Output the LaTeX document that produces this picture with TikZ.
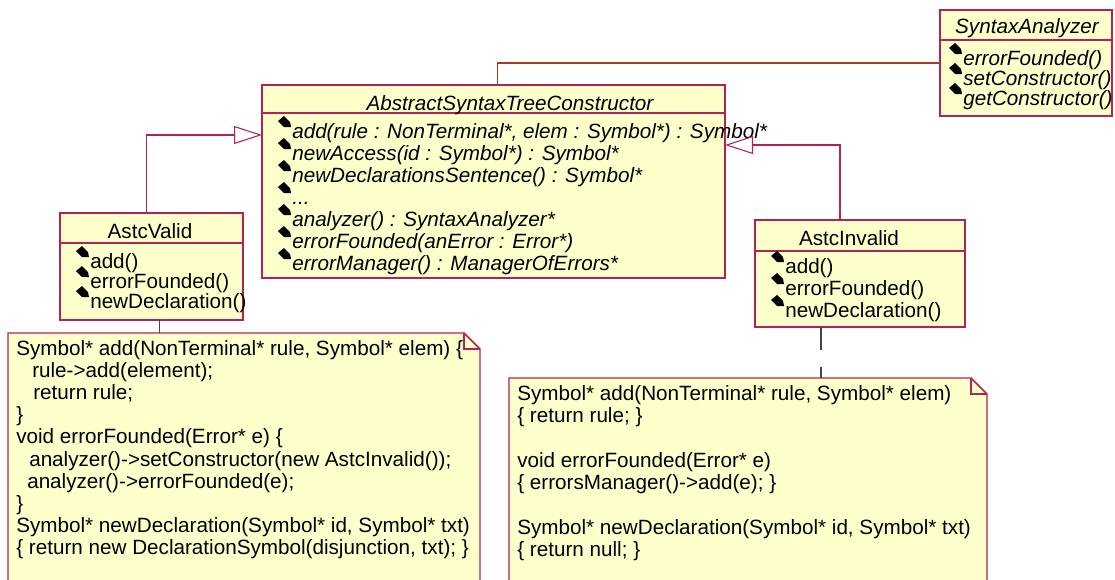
\documentclass[tikz,border=0pt]{standalone}
\usepackage{fontspec}
\setmainfont{Liberation Sans}
\usetikzlibrary{arrows.meta}

\definecolor{roseline}{RGB}{178,34,86}
\definecolor{rosefill}{RGB}{255,255,204}
\definecolor{assocline}{RGB}{165,60,30}
\definecolor{noteline}{RGB}{70,70,70}

\newdimen\upx
\upx=0.75pt

\tikzset{
  classbox/.style={draw=roseline, fill=rosefill, line width=1.1pt, inner sep=0pt, outer sep=0pt, anchor=north west},
  notebox/.style={inner sep=0pt, outer sep=0pt, anchor=north west},
  umltxt/.style={inner sep=0pt, font=\fontsize{15.5}{16.7}\selectfont},
  nametxt/.style={umltxt, anchor=base},
  absnametxt/.style={nametxt, font=\fontsize{15.5}{16.7}\selectfont\itshape},
  optxt/.style={umltxt, anchor=base west},
  absoptxt/.style={optxt, font=\fontsize{15.5}{16.7}\selectfont\itshape},
  inherit/.style={draw=roseline, line width=0.8pt, -{Triangle[open, length=21pt, width=13.5pt]}},
}

\newcommand{\umlops}[6]{%
  \foreach \op [count=\k] in {#6} {
    \pgfmathsetmacro{\yb}{#4+(\k-1)*#5}
    \fill (#3-14,\yb-17) -- (#3-8,\yb-22) -- (#3-2,\yb-16) -- (#3-1,\yb-11) -- (#3-8,\yb-11) -- cycle;
    \node[#2] (#1-\k) at (#3,\yb) {\op};
  }%
}

\begin{document}
\begin{tikzpicture}[x=\upx, y=-\upx]
\useasboundingbox (0,0) rectangle (1115,579);
\clip (0,0) rectangle (1115,579);

\node[classbox, minimum width=463\upx, minimum height=193\upx] (ast) at (262,85) {};
\node[classbox, minimum width=172\upx, minimum height=106\upx] (syn) at (940,10) {};
\node[classbox, minimum width=183\upx, minimum height=107\upx] (valid) at (60,213) {};
\node[classbox, minimum width=210\upx, minimum height=107\upx] (invalid) at (755,220) {};

\draw[roseline, line width=1.1pt] ([yshift=-28\upx]ast.north west) -- ([yshift=-28\upx]ast.north east);
\draw[roseline, line width=1.1pt] ([yshift=-30\upx]syn.north west) -- ([yshift=-30\upx]syn.north east);
\draw[roseline, line width=1.1pt] ([yshift=-30\upx]valid.north west) -- ([yshift=-30\upx]valid.north east);
\draw[roseline, line width=1.1pt] ([yshift=-31\upx]invalid.north west) -- ([yshift=-31\upx]invalid.north east);

\node[absnametxt] (ast-name) at (510,110) {AbstractSyntaxTreeConstructor};
\node[absnametxt] (syn-name) at (1027,33) {SyntaxAnalyzer};
\node[nametxt] (valid-name) at (150,238) {AstcValid};
\node[nametxt] (invalid-name) at (849,245) {AstcInvalid};

\umlops{ast-op}{absoptxt}{292}{138}{22}{{add(rule : NonTerminal*, elem : Symbol*) : Symbol*}, {newAccess(id : Symbol*) : Symbol*}, {newDeclarationsSentence() : Symbol*}, {.{}.{}.}, {analyzer() : SyntaxAnalyzer*}, {errorFounded(anError : Error*)}, {errorManager() : ManagerOfErrors*}}
\umlops{syn-op}{absoptxt}{963}{65}{20}{errorFounded(), setConstructor(), getConstructor()}
\umlops{valid-op}{optxt}{90}{268}{20}{add(), errorFounded(), newDeclaration()}
\umlops{invalid-op}{optxt}{785}{273}{22}{add(), errorFounded(), newDeclaration()}

\node[notebox, minimum width=472\upx, minimum height=270\upx] (noteA) at (8,333) {};
\node[notebox, minimum width=478\upx, minimum height=230\upx] (noteB) at (509,378) {};
\foreach \n in {noteA, noteB} {
  \draw[draw=roseline, fill=rosefill, line width=1.1pt] (\n.north west) -- ([xshift=-16\upx]\n.north east) -- ([yshift=-16\upx]\n.north east) -- (\n.south east) -- (\n.south west) -- cycle;
  \draw[roseline, line width=0.8pt] ([xshift=-16\upx]\n.north east) |- ([yshift=-16\upx]\n.north east);
}

\foreach \ln [count=\k] in {{Symbol* add(NonTerminal* rule, Symbol* elem) \{}, {\hspace*{16\upx}rule->add(element);}, {\hspace*{17\upx}return rule;}, {\}}, {void errorFounded(Error* e) \{}, {\hspace*{13\upx}analyzer()->setConstructor(new AstcInvalid());}, {\hspace*{11\upx}analyzer()->errorFounded(e);}, {\}}, {Symbol* newDeclaration(Symbol* id, Symbol* txt)}, {\{ return new DeclarationSymbol(disjunction, txt); \}}} {
  \pgfmathsetmacro{\yb}{355+(\k-1)*22.2}
  \node[optxt] (noteA-\k) at (16,\yb) {\ln};
}
\foreach \k/\ln in {1/{Symbol* add(NonTerminal* rule, Symbol* elem)}, 2/{\{ return rule; \}}, 4/{void errorFounded(Error* e)}, 5/{\{ errorsManager()->add(e); \}}, 7/{Symbol* newDeclaration(Symbol* id, Symbol* txt)}, 8/{\{ return null; \}}} {
  \pgfmathsetmacro{\yb}{400+(\k-1)*22.4}
  \node[optxt] (noteB-\k) at (517,\yb) {\ln};
}

\coordinate (validlink) at ([xshift=8\upx]valid.south);
\coordinate (invalidlink) at ([xshift=-39\upx]invalid.south);

\draw[inherit] ([xshift=-5\upx]valid.north) |- ([yshift=-50\upx]ast.north west);
\draw[inherit] ([xshift=-20\upx]invalid.north) |- ([yshift=-60\upx]ast.north east);
\draw[assocline, line width=0.9pt] ([xshift=4\upx]ast.north) |- (syn.west);
\draw[noteline, line width=0.8pt] (validlink) -- (validlink |- noteA.north);
\draw[noteline, line width=0.8pt, dash pattern=on 17.25pt off 12.75pt] (invalidlink) -- (invalidlink |- noteB.north);
\end{tikzpicture}
\end{document}
